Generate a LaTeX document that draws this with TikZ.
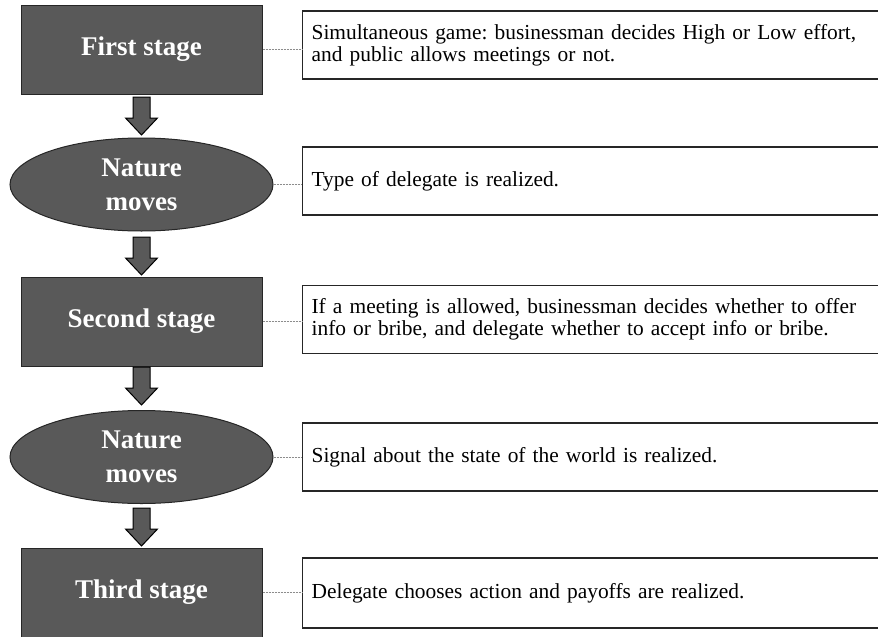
\documentclass[tikz,border=0pt]{standalone}
\usepackage{fontspec}
\setmainfont{Liberation Serif}
\usetikzlibrary{shapes.geometric,calc}
\definecolor{stagefill}{HTML}{595959}
\definecolor{dashgray}{HTML}{8C8C8C}
\newcommand{\blockarr}[2]{%
  \draw[blockarrow] ($(#1)+(-8.5,0)$) -- ($(#1)+(8.5,0)$) -- ($(#2)+(8.5,-17)$) -- ($(#2)+(16,-17)$) -- (#2) -- ($(#2)+(-16,-17)$) -- ($(#2)+(-8.5,-17)$) -- cycle;}
\frenchspacing
\begin{document}
\begin{tikzpicture}[x=1pt,y=-1pt,
  stagebox/.style={draw=black!85, line width=1pt, fill=stagefill, text=white,
    font=\fontsize{27}{34}\selectfont\bfseries, minimum width=241pt, minimum height=89pt,
    inner sep=0pt, align=center},
  naturenode/.style={stagebox, ellipse, minimum width=263pt, minimum height=93pt},
  notebox/.style={draw=black!85, line width=1.2pt, fill=white, anchor=west,
    text width=570pt, inner xsep=9pt, inner ysep=0pt, minimum height=68pt, align=left,
    font=\fontsize{21.4}{22}\selectfont},
  linker/.style={draw=dashgray, dash pattern=on 2pt off 1pt, line width=0.8pt},
  blockarrow/.style={draw=black, line width=1pt, fill=stagefill}
]
\useasboundingbox (0,0) rectangle (878,637);
\clip (0,0) rectangle (878,637);
\node[stagebox] (first) at (141.5,49.5) {First stage};
\node[naturenode] (nat1) at (141.5,184.5) {Nature\\moves};
\node[stagebox] (second) at (141.5,321.5) {Second stage};
\node[naturenode] (nat2) at (141.5,457) {Nature\\moves};
\node[stagebox] (third) at (141.5,592.5) {Third stage};

\node[notebox] (n1) at (302,45) {Simultaneous game: businessman decides High or Low effort,\\and public allows meetings or not.};
\node[notebox] (n2) at (302,181) {Type of delegate is realized.};
\node[notebox] (n3) at (302,319.5) {If a meeting is allowed, businessman decides whether to offer\\info or bribe, and delegate whether to accept info or bribe.};
\node[notebox] (n4) at (302,457) {Signal about the state of the world is realized.};
\node[notebox, minimum height=70pt] (n5) at (302,593) {Delegate chooses action and payoffs are realized.};

\draw[linker] (first.east) -- (first.east -| n1.west);
\draw[linker] (nat1.east) -- (nat1.east -| n2.west);
\draw[linker] (second.east) -- (second.east -| n3.west);
\draw[linker] (nat2.east) -- (nat2.east -| n4.west);
\draw[linker] (third.east) -- (third.east -| n5.west);

\coordinate (a1s) at (141.5,97);  \coordinate (a1t) at (141.5,135);
\coordinate (a2s) at (141.5,237); \coordinate (a2t) at (141.5,275);
\coordinate (a3s) at (141.5,367); \coordinate (a3t) at (141.5,405);
\coordinate (a4s) at (141.5,508); \coordinate (a4t) at (141.5,546);
\blockarr{a1s}{a1t}
\blockarr{a2s}{a2t}
\blockarr{a3s}{a3t}
\blockarr{a4s}{a4t}
\end{tikzpicture}
\end{document}
